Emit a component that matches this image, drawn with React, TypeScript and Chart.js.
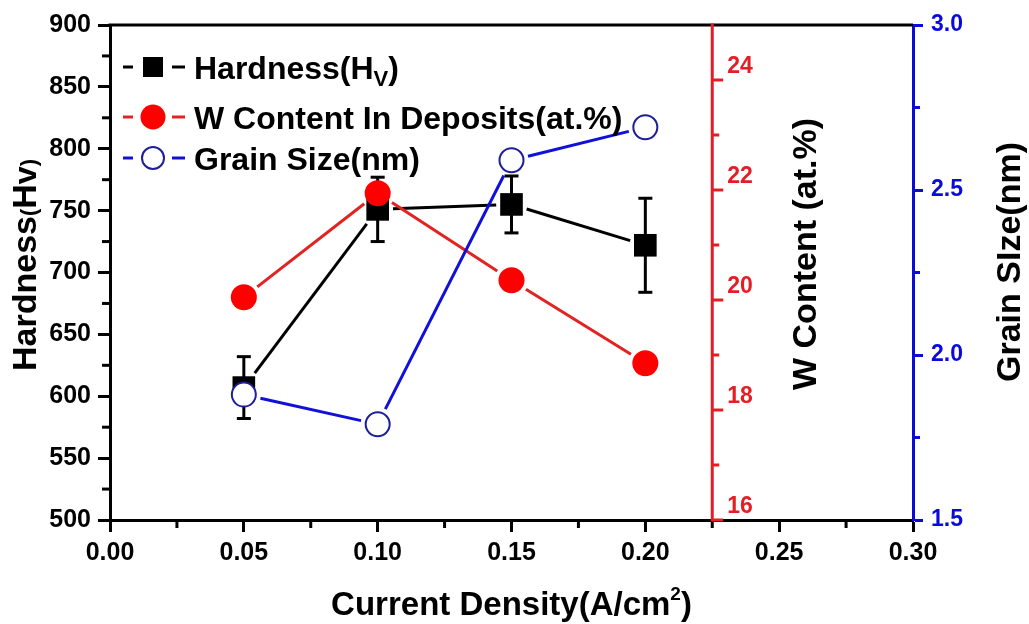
import React, { useEffect, useRef } from "react";
import { Chart, registerables } from "chart.js";

Chart.register(...registerables);

const FONT = '"Liberation Sans", Arial, Helvetica, sans-serif';

// Current density of the plating bath (A/cm²)
const currentDensity = [0.05, 0.1, 0.15, 0.2];
// Micro-hardness (Hv) and its standard deviation
const hardness = [607, 751, 755, 722];
const hardnessErr = [25, 26, 23, 38];
// Tungsten content of the deposits (at.%)
const wContent = [20.05, 21.94, 20.36, 18.85];
// Grain size (nm)
const grainSize = [1.88, 1.79, 2.59, 2.69];

// Axis ranges and steps
const xRange = [0, 0.3];
const xStep = 0.05;
const hardnessRange = [500, 900];
const hardnessStep = 50;
const wRange = [16, 25];
const wStep = 2;
const grainRange = [1.5, 3.0];
const grainStep = 0.5;
const wAxisAt = 0.225;

const BLACK = "#000000";
const RED = "#ff0000";
const RED_LINE = "#e32222";
const RED_AXIS = "#e31e24";
const BLUE_LINE = "#1010d8";
const BLUE_AXIS = "#0b0bd9";
const NAVY = "#1e1e9a";

type Run = { t: string; size: number; dy?: number };

const legendRows: Run[][] = [
  [
    { t: "Hardness(H", size: 32 },
    { t: "V", size: 22, dy: 7 },
    { t: ")", size: 32 },
  ],
  [{ t: "W Content In Deposits(at.%)", size: 32 }],
  [{ t: "Grain Size(nm)", size: 32 }],
];

const xTitle: Run[] = [
  { t: "Current Density(A/cm", size: 33 },
  { t: "2", size: 19, dy: -15 },
  { t: ")", size: 33 },
];
const hardnessTitle: Run[] = [
  { t: "Hardness", size: 34 },
  { t: "(", size: 22 },
  { t: "H", size: 34 },
  { t: "v", size: 32 },
  { t: ")", size: 22 },
];
const wTitle: Run[] = [{ t: "W Content (at.%)", size: 34 }];
const grainTitle: Run[] = [{ t: "Grain SIze(nm)", size: 34 }];

// Line / marker style per dataset index
const seriesStyle = [
  { line: BLACK, marker: "rect", reach: 16 },
  { line: RED_LINE, marker: "circle", reach: 13 },
  { line: BLUE_LINE, marker: "circle", reach: 13 },
];

function font(size: number) {
  return `bold ${size}px ${FONT}`;
}

function runsWidth(ctx: CanvasRenderingContext2D, runs: Run[]) {
  let w = 0;
  for (const r of runs) {
    ctx.font = font(r.size);
    w += ctx.measureText(r.t).width;
  }
  return w;
}

function drawRuns(
  ctx: CanvasRenderingContext2D,
  runs: Run[],
  x: number,
  baseline: number,
  align: "left" | "center",
  color: string
) {
  let cx = align === "center" ? x - runsWidth(ctx, runs) / 2 : x;
  ctx.fillStyle = color;
  ctx.textAlign = "left";
  ctx.textBaseline = "alphabetic";
  for (const r of runs) {
    ctx.font = font(r.size);
    ctx.fillText(r.t, cx, baseline + (r.dy || 0));
    cx += ctx.measureText(r.t).width;
  }
}

function drawVerticalTitle(
  ctx: CanvasRenderingContext2D,
  runs: Run[],
  cx: number,
  cy: number,
  color: string
) {
  ctx.save();
  ctx.translate(cx, cy);
  ctx.rotate(-Math.PI / 2);
  drawRuns(ctx, runs, 0, runs[0].size * 0.36, "center", color);
  ctx.restore();
}

function line(ctx: CanvasRenderingContext2D, x1: number, y1: number, x2: number, y2: number) {
  ctx.beginPath();
  ctx.moveTo(x1, y1);
  ctx.lineTo(x2, y2);
  ctx.stroke();
}

function midpoints(values: number[]) {
  const out: number[] = [];
  for (let i = 0; i < values.length - 1; i++) out.push((values[i] + values[i + 1]) / 2);
  return out;
}

function drawMarker(ctx: CanvasRenderingContext2D, kind: number, x: number, y: number) {
  if (kind === 0) {
    ctx.fillStyle = BLACK;
    ctx.fillRect(x - 10, y - 10, 20, 20);
  } else if (kind === 1) {
    ctx.fillStyle = RED;
    ctx.beginPath();
    ctx.arc(x, y, 12.5, 0, Math.PI * 2);
    ctx.fill();
  } else {
    ctx.fillStyle = "#fff";
    ctx.strokeStyle = NAVY;
    ctx.lineWidth = 2;
    ctx.beginPath();
    ctx.arc(x, y, 11, 0, Math.PI * 2);
    ctx.fill();
    ctx.stroke();
  }
}

const decorations = {
  id: "decorations",
  beforeDatasetDraw(chart: any, args: any) {
    const ctx: CanvasRenderingContext2D = chart.ctx;
    const idx: number = args.index;
    const style = seriesStyle[idx];
    const pts = args.meta.data as any[];
    ctx.save();
    // connecting lines with a small gap around each marker
    ctx.strokeStyle = style.line;
    ctx.lineWidth = 3;
    ctx.lineCap = "butt";
    const gap = 4;
    for (let i = 0; i < pts.length - 1; i++) {
      const a = pts[i];
      const b = pts[i + 1];
      const dx = b.x - a.x;
      const dy = b.y - a.y;
      const len = Math.hypot(dx, dy);
      const ux = dx / len;
      const uy = dy / len;
      let reach = style.reach;
      if (style.marker === "rect") {
        const half = style.reach * Math.SQRT1_2;
        reach = half / Math.max(Math.abs(ux), Math.abs(uy));
      }
      const t = reach + gap;
      if (len > 2 * t) line(ctx, a.x + ux * t, a.y + uy * t, b.x - ux * t, b.y - uy * t);
    }
    // error bars on the hardness series
    if (idx === 0) {
      const y = chart.scales.y;
      ctx.strokeStyle = BLACK;
      ctx.lineWidth = 3;
      pts.forEach((p: any, i: number) => {
        const top = y.getPixelForValue(hardness[i] + hardnessErr[i]);
        const bot = y.getPixelForValue(hardness[i] - hardnessErr[i]);
        line(ctx, p.x, top, p.x, bot);
        line(ctx, p.x - 7, top, p.x + 7, top);
        line(ctx, p.x - 7, bot, p.x + 7, bot);
      });
    }
    ctx.restore();
  },
  afterDraw(chart: any) {
    const ctx: CanvasRenderingContext2D = chart.ctx;
    const { left, right, top, bottom } = chart.chartArea;
    const sx = chart.scales.x;
    const sy = chart.scales.y;
    const sw = chart.scales.yW;
    const sg = chart.scales.yG;
    ctx.save();
    ctx.lineCap = "butt";

    // top frame line
    ctx.strokeStyle = BLACK;
    ctx.lineWidth = 3;
    line(ctx, left - 1.5, top, right, top);

    // minor ticks
    ctx.lineWidth = 3;
    ctx.strokeStyle = BLACK;
    for (const v of midpoints(sx.ticks.map((t: any) => t.value))) {
      const px = sx.getPixelForValue(v);
      line(ctx, px, bottom, px, bottom + 8);
    }
    for (const v of midpoints(sy.ticks.map((t: any) => t.value))) {
      const py = sy.getPixelForValue(v);
      line(ctx, left, py, left - 8, py);
    }
    ctx.strokeStyle = BLUE_AXIS;
    for (const v of midpoints(sg.ticks.map((t: any) => t.value))) {
      const py = sg.getPixelForValue(v);
      line(ctx, right, py, right + 7, py);
    }

    // W content axis placed inside the plot
    const wx = sx.getPixelForValue(wAxisAt);
    const wMajor = sw.ticks
      .map((t: any) => t.value)
      .filter((v: number) => Math.abs(((v - wRange[0]) / wStep) % 1) < 1e-6);
    ctx.strokeStyle = RED_AXIS;
    ctx.lineWidth = 3;
    line(ctx, wx, top - 1.5, wx, bottom + 1.5);
    for (const v of wMajor) {
      const py = sw.getPixelForValue(v);
      line(ctx, wx, py, wx + 11, py);
    }
    for (const v of midpoints(wMajor)) {
      const py = sw.getPixelForValue(v);
      line(ctx, wx, py, wx + 7, py);
    }
    ctx.fillStyle = RED_AXIS;
    ctx.font = font(23);
    ctx.textAlign = "left";
    ctx.textBaseline = "middle";
    for (const v of wMajor) {
      const py = sw.getPixelForValue(v);
      ctx.fillText(String(v), wx + 15, py - 13);
    }

    // axis titles
    drawRuns(ctx, xTitle, (left + right) / 2, 615, "center", BLACK);
    drawVerticalTitle(ctx, hardnessTitle, 24, 265, BLACK);
    drawVerticalTitle(ctx, wTitle, 804, 254, BLACK);
    drawVerticalTitle(ctx, grainTitle, 1008, 262, BLACK);

    // legend
    const rowY = [67, 117, 158];
    legendRows.forEach((runs, i) => {
      const y = rowY[i];
      ctx.strokeStyle = seriesStyle[i].line;
      ctx.lineWidth = 3;
      line(ctx, left + 13, y, left + 23, y);
      line(ctx, left + 62, y, left + 75, y);
      drawMarker(ctx, i, left + 43, y);
      drawRuns(ctx, runs, left + 84, y + 11.5, "left", BLACK);
    });

    ctx.restore();
  },
};

export default function App() {
  const ref = useRef<HTMLCanvasElement>(null);

  useEffect(() => {
    const tickFont = { family: FONT, size: 25, weight: "bold" as const };
    const chart = new Chart(ref.current!, {
      type: "line",
      data: {
        datasets: [
          {
            label: "Hardness",
            data: currentDensity.map((x, i) => ({ x, y: hardness[i] })),
            yAxisID: "y",
            showLine: false,
            pointStyle: "rect",
            pointRadius: 16,
            pointBackgroundColor: BLACK,
            pointBorderColor: BLACK,
            pointBorderWidth: 0,
            order: 3,
          },
          {
            label: "W Content In Deposits(at.%)",
            data: currentDensity.map((x, i) => ({ x, y: wContent[i] })),
            yAxisID: "yW",
            showLine: false,
            pointStyle: "circle",
            pointRadius: 13,
            pointBackgroundColor: RED,
            pointBorderColor: RED,
            pointBorderWidth: 0,
            order: 2,
          },
          {
            label: "Grain Size(nm)",
            data: currentDensity.map((x, i) => ({ x, y: grainSize[i] })),
            yAxisID: "yG",
            showLine: false,
            pointStyle: "circle",
            pointRadius: 12,
            pointBackgroundColor: "#ffffff",
            pointBorderColor: NAVY,
            pointBorderWidth: 2,
            order: 1,
          },
        ],
      },
      options: {
        responsive: false,
        animation: false,
        events: [],
        layout: { padding: { top: 25, left: 0, right: 0, bottom: 0 } },
        plugins: { legend: { display: false }, tooltip: { enabled: false } },
        scales: {
          x: {
            type: "linear",
            position: "bottom",
            min: xRange[0],
            max: xRange[1],
            afterFit: (s: any) => {
              s.height = 104;
            },
            ticks: {
              stepSize: xStep,
              autoSkip: false,
              maxRotation: 0,
              padding: 6,
              color: BLACK,
              font: tickFont,
              callback: (v: any) => Number(v).toFixed(2),
            },
            grid: { drawOnChartArea: false, drawTicks: true, tickLength: 12, tickWidth: 3, color: BLACK },
            border: { display: true, color: BLACK, width: 3 },
          },
          y: {
            type: "linear",
            position: "left",
            min: hardnessRange[0],
            max: hardnessRange[1],
            afterFit: (s: any) => {
              s.width = 110;
            },
            ticks: { stepSize: hardnessStep, padding: 7, color: BLACK, font: tickFont },
            grid: { drawOnChartArea: false, drawTicks: true, tickLength: 12, tickWidth: 3, color: BLACK },
            border: { display: true, color: BLACK, width: 3 },
          },
          yW: {
            type: "linear",
            position: "right",
            display: false,
            min: wRange[0],
            max: wRange[1],
            ticks: { stepSize: wStep },
          },
          yG: {
            type: "linear",
            position: "right",
            min: grainRange[0],
            max: grainRange[1],
            afterFit: (s: any) => {
              s.width = 116;
            },
            ticks: {
              stepSize: grainStep,
              padding: 8,
              color: BLUE_AXIS,
              font: { family: FONT, size: 23, weight: "bold" },
              callback: (v: any) => Number(v).toFixed(1),
            },
            grid: { drawOnChartArea: false, drawTicks: true, tickLength: 10, tickWidth: 3, color: BLUE_AXIS },
            border: { display: true, color: BLUE_AXIS, width: 3 },
          },
        },
      },
      plugins: [decorations],
    } as any);
    return () => chart.destroy();
  }, []);

  return (
    <div style={{ position: "fixed", left: 0, top: 0, width: 1029, height: 624, background: "#ffffff" }}>
      <canvas ref={ref} width={1029} height={624} style={{ display: "block" }} />
    </div>
  );
}
